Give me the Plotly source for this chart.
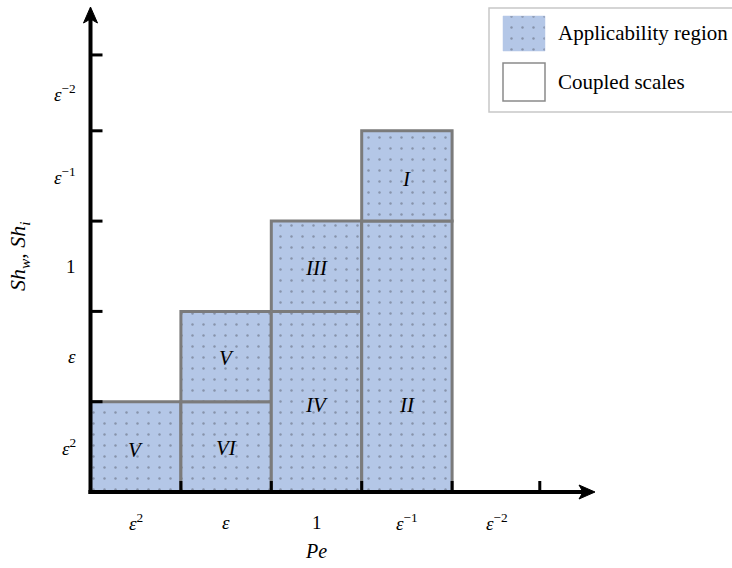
import plotly.graph_objects as go

# ---------------- data ----------------
x_tick_positions = [1, 2, 3, 4, 4.97]
y_tick_positions = [1, 2, 3, 4, 4.84]
x_label_positions = [0.5, 1.5, 2.5, 3.5, 4.5]
y_label_positions = [0.5, 1.5, 2.5, 3.5, 4.42]
x_tick_labels = ["<i>ε</i><sup>2</sup>", "<i>ε</i>", "1", "<i>ε</i><sup>−1</sup>", "<i>ε</i><sup>−2</sup>"]
y_tick_labels = ["<i>ε</i><sup>2</sup>", "<i>ε</i>", "1", "<i>ε</i><sup>−1</sup>", "<i>ε</i><sup>−2</sup>"]

region_names = ["V", "VI", "V", "IV", "III", "II", "I"]
region_x0 = [0, 1, 1, 2, 2, 3, 3]
region_x1 = [1, 2, 2, 3, 3, 4, 4]
region_y0 = [0, 0, 1, 0, 2, 0, 3]
region_y1 = [1, 1, 2, 2, 3, 3, 4]
label_x = [0.5, 1.5, 1.5, 2.5, 2.5, 3.5, 3.5]
label_y = [0.47, 0.49, 1.48, 0.96, 2.48, 0.96, 3.47]

legend_names = ["Applicability region", "Coupled scales"]

# ---------------- styling ----------------
W, H = 732, 568
OX, OY = 90.5, 492.0      # pixel origin of the chart axes
UX, UY = 90.4, 90.3       # pixels per unit
FILL = "#b4c7e7"
DOT = "#8793ab"
EDGE = "#7b7b7b"
FONT = "Liberation Serif"

xr = [-OX / UX, (W - OX) / UX]
yr = [(OY - H) / UY, OY / UY]

fig = go.Figure()

pattern = dict(shape=".", bgcolor=FILL, fgcolor=DOT, size=11, solidity=0.04, fillmode="replace")

for n, x0, x1, y0, y1 in zip(region_names, region_x0, region_x1, region_y0, region_y1):
    fig.add_trace(go.Scatter(
        x=[x0, x1, x1, x0, x0], y=[y0, y0, y1, y1, y0],
        mode="lines", fill="toself", fillcolor=FILL, fillpattern=pattern,
        line=dict(color=EDGE, width=3), showlegend=False, hoverinfo="skip",
        xaxis="x", yaxis="y"))

# legend patch (pixel overlay axes)
lx0, lx1 = 503, 545
fig.add_trace(go.Scatter(
    x=[lx0, lx1, lx1, lx0, lx0], y=[16, 16, 51, 51, 16],
    mode="lines", fill="toself", fillcolor=FILL, fillpattern=pattern,
    line=dict(color=FILL, width=0.5), showlegend=False, hoverinfo="skip",
    xaxis="x2", yaxis="y2"))

annotations = []
for n, x, y in zip(region_names, label_x, label_y):
    annotations.append(dict(x=x, y=y, xref="x", yref="y", text=f"<i>{n}</i>", showarrow=False,
                            font=dict(family=FONT, size=21, color="black")))
for t, x in zip(x_tick_labels, x_label_positions):
    annotations.append(dict(x=x, y=(OY - 522) / UY, xref="x", yref="y", text=t, showarrow=False,
                            font=dict(family=FONT, size=19, color="black")))
for t, y in zip(y_tick_labels, y_label_positions):
    annotations.append(dict(x=(78 - OX) / UX, y=y, xref="x", yref="y", text=t, showarrow=False,
                            xanchor="right", font=dict(family=FONT, size=19, color="black")))
annotations.append(dict(x=(316 - OX) / UX, y=(OY - 551) / UY, xref="x", yref="y", text="<i>Pe</i>",
                        showarrow=False, font=dict(family=FONT, size=20, color="black")))
annotations.append(dict(x=19, y=256, xref="x2", yref="y2",
                        text="<i>Sh</i><sub><i>w</i></sub>, <i>Sh</i><sub><i>i</i></sub>",
                        textangle=-90, showarrow=False, font=dict(family=FONT, size=22, color="black")))
annotations.append(dict(x=556, y=33, xref="x2", yref="y2", text=legend_names[0], xanchor="left",
                        showarrow=False, font=dict(family=FONT, size=21, color="black")))
annotations.append(dict(x=556, y=82, xref="x2", yref="y2", text=legend_names[1], xanchor="left",
                        showarrow=False, font=dict(family=FONT, size=21, color="black")))

shapes = []
# legend box
shapes.append(dict(type="rect", xref="x2", yref="y2", x0=489, x1=745, y0=8, y1=112,
                   line=dict(color="#c8c8c8", width=1.5), fillcolor="rgba(0,0,0,0)", layer="above"))
shapes.append(dict(type="rect", xref="x2", yref="y2", x0=503, x1=545, y0=63, y1=101,
                   line=dict(color="#8a8a8a", width=1.5), fillcolor="white", layer="above"))
# axes lines
shapes.append(dict(type="line", xref="x2", yref="y2", x0=OX - 2, x1=584, y0=OY, y1=OY,
                   line=dict(color="black", width=4), layer="above"))
shapes.append(dict(type="line", xref="x2", yref="y2", x0=OX, x1=OX, y0=OY + 2, y1=18,
                   line=dict(color="black", width=4), layer="above"))
# arrow heads
shapes.append(dict(type="path", xref="x2", yref="y2",
                   path=f"M 595 {OY} L 579 {OY-7} L 583 {OY} L 579 {OY+7} Z",
                   fillcolor="black", line=dict(color="black", width=1), layer="above"))
shapes.append(dict(type="path", xref="x2", yref="y2",
                   path=f"M {OX} 7 L {OX-7} 23 L {OX} 19 L {OX+7} 23 Z",
                   fillcolor="black", line=dict(color="black", width=1), layer="above"))
# ticks
for t in x_tick_positions:
    shapes.append(dict(type="line", xref="x", yref="y", x0=t, x1=t, y0=0, y1=11 / UY,
                       line=dict(color="black", width=3), layer="above"))
for t in y_tick_positions:
    shapes.append(dict(type="line", xref="x", yref="y", x0=0, x1=12 / UX, y0=t, y1=t,
                       line=dict(color="black", width=3), layer="above"))

fig.update_layout(
    width=W, height=H,
    margin=dict(l=0, r=0, t=0, b=0),
    paper_bgcolor="white", plot_bgcolor="white",
    xaxis=dict(range=xr, visible=False, domain=[0, 1], fixedrange=True),
    yaxis=dict(range=yr, visible=False, domain=[0, 1], fixedrange=True),
    xaxis2=dict(range=[0, W], visible=False, overlaying="x", domain=[0, 1], fixedrange=True),
    yaxis2=dict(range=[H, 0], visible=False, overlaying="y", domain=[0, 1], fixedrange=True),
    annotations=annotations, shapes=shapes, showlegend=False,
)

fig.write_html("out.html")
